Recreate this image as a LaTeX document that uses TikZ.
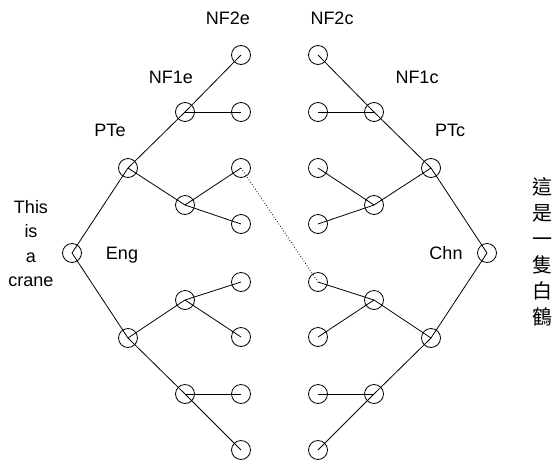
\documentclass[tikz,border=0pt]{standalone}
\usepackage{fontspec}
\setmainfont{Liberation Sans}
\newfontfamily\cjkfont{Noto Sans CJK TC}
\begin{document}
\begin{tikzpicture}[x=1pt, y=-1pt, line width=0.8pt,
          every node/.style = {shape=circle, inner sep=0pt, minimum size=19pt, draw, line width=0.8pt},
          tag/.style = {draw=none, shape=rectangle, minimum size=0pt, inner sep=0pt, align=center, font=\fontsize{18}{24.6}\selectfont},
          hanzi/.style = {tag, font=\cjkfont\fontsize{20}{26}\selectfont},
          align link/.style = {line width=0.8pt, dash pattern=on 0.8pt off 2pt}]
          \useasboundingbox (0,0) rectangle (553,463);
          \node (eng) at (72,253) {};
          \node (pte) at (128,168) {};
          \node (pte2) at (128,338) {};
          \node (nf1e) at (185,112) {};
          \node (ne2) at (185,205) {};
          \node (ne3) at (185,300) {};
          \node (ne4) at (185,394) {};
          \node (e1) at (241,55) {};
          \node (e2) at (241,112) {};
          \node (e3) at (241,168) {};
          \node (e4) at (241,224) {};
          \node (e5) at (241,282) {};
          \node (e6) at (241,337) {};
          \node (e7) at (241,394) {};
          \node (e8) at (241,450) {};
          \node (chn) at (487,253) {};
          \node (ptc) at (431,168) {};
          \node (ptc2) at (431,338) {};
          \node (nf1c) at (374,112) {};
          \node (nc2) at (374,205) {};
          \node (nc3) at (374,300) {};
          \node (nc4) at (374,394) {};
          \node (c1) at (318,55) {};
          \node (c2) at (318,112) {};
          \node (c3) at (318,168) {};
          \node (c4) at (318,224) {};
          \node (c5) at (318,282) {};
          \node (c6) at (318,337) {};
          \node (c7) at (318,394) {};
          \node (c8) at (318,450) {};
          \draw (eng.center) -- (pte.center) -- (nf1e.center) -- (e1.center);
          \draw (nf1e.center) -- (e2.center);
          \draw (pte.center) -- (ne2.center) -- (e3.center);
          \draw (ne2.center) -- (e4.center);
          \draw (eng.center) -- (pte2.center) -- (ne4.center) -- (e8.center);
          \draw (ne4.center) -- (e7.center);
          \draw (pte2.center) -- (ne3.center) -- (e5.center);
          \draw (ne3.center) -- (e6.center);
          \draw (chn.center) -- (ptc.center) -- (nf1c.center) -- (c1.center);
          \draw (nf1c.center) -- (c2.center);
          \draw (ptc.center) -- (nc2.center) -- (c3.center);
          \draw (nc2.center) -- (c4.center);
          \draw (chn.center) -- (ptc2.center) -- (nc4.center) -- (c8.center);
          \draw (nc4.center) -- (c7.center);
          \draw (ptc2.center) -- (nc3.center) -- (c5.center);
          \draw (nc3.center) -- (c6.center);
          \draw[align link] (e3.center) -- (c5.center);
          \node[tag, anchor=base] (tnf2e) at (228,24) {NF2e};
          \node[tag, anchor=base] (tnf2c) at (332,24) {NF2c};
          \node[tag, anchor=base] (tnf1e) at (171,83) {NF1e};
          \node[tag, anchor=base] (tnf1c) at (417,83) {NF1c};
          \node[tag, anchor=base] (tpte) at (110,136.5) {PTe};
          \node[tag, anchor=base] (tptc) at (450,136.5) {PTc};
          \node[tag, anchor=base] (teng) at (122,259) {Eng};
          \node[tag, anchor=base] (tchn) at (446,259) {Chn};
          \node[tag] (ttext) at (31,243.5) {This\\is\\a\\crane};
          \node[hanzi] (thanzi) at (542,252) {這\\是\\一\\隻\\白\\鶴};
\end{tikzpicture}
\end{document}
